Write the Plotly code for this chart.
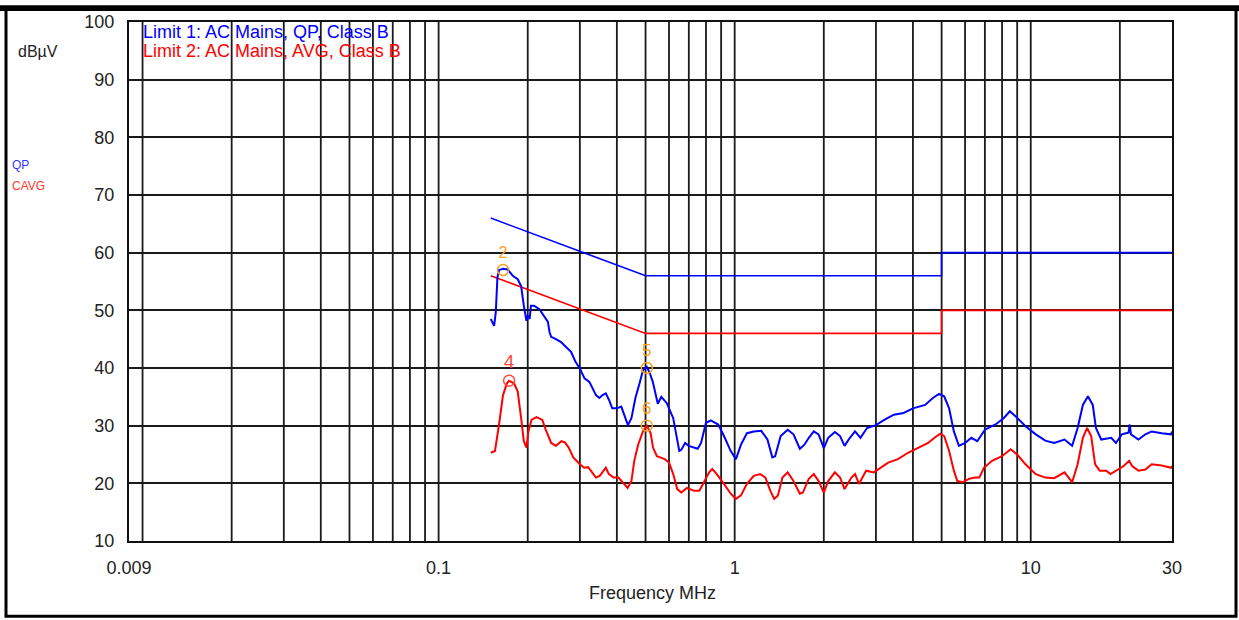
import math
import plotly.graph_objects as go

# ---------------- data ----------------
limit_freq = [0.15, 0.5, 5.0, 5.0, 30.0]
limit_qp = [66, 56, 56, 60, 60]
limit_avg = [56, 46, 46, 50, 50]

qp_freq = [0.150, 0.152, 0.154, 0.156, 0.158, 0.160, 0.165, 0.171, 0.178, 0.185, 0.190, 0.194,
           0.198, 0.200, 0.203, 0.205, 0.210, 0.219, 0.224, 0.234, 0.237, 0.240, 0.249, 0.259,
           0.270, 0.280, 0.290, 0.300, 0.311, 0.323, 0.331, 0.340, 0.349, 0.358, 0.367, 0.376,
           0.386, 0.400, 0.414, 0.425, 0.436, 0.448, 0.462, 0.477, 0.490, 0.505, 0.515, 0.529,
           0.543, 0.550, 0.565, 0.590, 0.620, 0.640, 0.650, 0.660, 0.680, 0.700, 0.750, 0.770,
           0.800, 0.830, 0.880, 0.920, 0.970, 1.01, 1.05, 1.10, 1.16, 1.23, 1.29, 1.34, 1.37,
           1.43, 1.51, 1.58, 1.66, 1.72, 1.78, 1.85, 1.92, 2.00, 2.07, 2.18, 2.27, 2.35, 2.45,
           2.55, 2.66, 2.80, 3.00, 3.20, 3.45, 3.72, 4.00, 4.40, 4.67, 4.90, 5.10, 5.30, 5.50,
           5.72, 6.00, 6.30, 6.60, 7.00, 7.60, 8.10, 8.50, 8.90, 9.60, 10.4, 11.2, 12.0, 13.0,
           13.8, 14.4, 15.0, 15.6, 16.2, 16.6, 17.3, 18.7, 19.4, 20.3, 21.4, 21.6, 21.8, 23.1,
           24.4, 25.6, 27.7, 29.8, 30.0]
qp_level = [48.5, 47.8, 47.3, 49.7, 55.7, 57.0, 57.2, 57.1, 56.0, 55.4, 54.2, 50.8,
            48.2, 49.1, 48.5, 50.8, 50.8, 50.2, 49.4, 48.0, 46.2, 45.4, 45.0, 44.5,
            43.6, 42.8, 41.1, 39.9, 38.2, 37.6, 36.5, 35.3, 34.8, 35.3, 35.6, 34.5,
            33.0, 33.0, 33.3, 31.5, 30.1, 31.3, 34.8, 37.3, 39.6, 40.2, 39.3, 37.6,
            34.8, 33.8, 35.0, 33.9, 31.3, 27.9, 25.6, 25.8, 27.0, 26.5, 26.0, 27.0,
            30.5, 30.9, 30.2, 28.2, 25.6, 24.2, 26.7, 28.7, 29.0, 29.1, 27.6, 24.5, 24.7,
            28.2, 29.3, 28.5, 26.0, 26.7, 27.9, 29.0, 28.5, 26.1, 27.9, 28.9, 28.2, 26.5, 27.9,
            29.0, 27.9, 29.6, 30.1, 31.0, 31.9, 32.2, 33.0, 33.6, 34.8, 35.5, 35.1, 33.0, 29.0,
            26.5, 27.0, 27.9, 27.3, 29.3, 30.2, 31.3, 32.5, 31.6, 29.9, 28.5, 27.4, 27.0, 27.6,
            26.5, 29.6, 33.6, 35.1, 33.6, 29.6, 27.6, 27.9, 27.0, 28.5, 28.8, 30.2, 28.5, 27.6,
            28.5, 29.0, 28.7, 28.5, 29.0]

avg_freq = [0.150, 0.155, 0.160, 0.165, 0.170, 0.173, 0.180, 0.185, 0.190, 0.194, 0.198, 0.201,
            0.206, 0.214, 0.224, 0.230, 0.240, 0.249, 0.260, 0.267, 0.275, 0.285, 0.300, 0.310,
            0.320, 0.330, 0.340, 0.350, 0.367, 0.376, 0.390, 0.405, 0.415, 0.435, 0.448, 0.458,
            0.472, 0.490, 0.505, 0.520, 0.530, 0.546, 0.560, 0.580, 0.600, 0.620, 0.640, 0.660,
            0.690, 0.730, 0.760, 0.790, 0.820, 0.840, 0.870, 0.920, 0.970, 1.01, 1.05, 1.10,
            1.16, 1.22, 1.27, 1.32, 1.36, 1.40, 1.45, 1.51, 1.58, 1.66, 1.70, 1.78, 1.85, 1.92,
            2.00, 2.07, 2.18, 2.27, 2.35, 2.48, 2.55, 2.63, 2.78, 2.95, 3.10, 3.30, 3.56, 3.85,
            4.15, 4.50, 4.73, 4.95, 5.10, 5.30, 5.50, 5.65, 5.90, 6.20, 6.50, 6.70, 6.95, 7.40,
            8.00, 8.55, 9.00, 9.60, 10.4, 11.2, 12.0, 13.0, 13.8, 14.4, 15.0, 15.5, 16.0, 16.5,
            17.1, 18.0, 18.6, 19.4, 20.6, 21.5, 22.0, 23.1, 24.4, 25.6, 27.7, 29.8, 30.0]
avg_level = [25.3, 25.6, 30.2, 35.3, 37.3, 37.8, 37.3, 35.9, 31.3, 27.3, 26.2, 29.0,
             31.0, 31.5, 31.0, 29.3, 27.0, 26.5, 27.3, 27.1, 26.2, 24.5, 23.3, 22.7,
             22.8, 21.9, 21.0, 21.3, 22.7, 21.6, 21.0, 21.0, 20.4, 19.2, 20.4, 23.9,
             26.7, 29.0, 30.0, 28.7, 26.2, 24.7, 24.5, 24.2, 23.6, 21.6, 19.0, 18.4,
             19.2, 18.7, 18.7, 20.4, 21.9, 22.5, 21.6, 19.9, 18.2, 17.3, 17.9, 19.9,
             21.3, 21.6, 21.0, 18.7, 17.3, 17.9, 21.0, 21.9, 20.4, 18.2, 18.4, 20.8, 21.6, 20.4,
             18.4, 20.4, 21.9, 21.0, 19.0, 21.0, 21.6, 19.9, 22.2, 21.9, 22.7, 23.6, 24.2, 25.3,
             26.1, 27.0, 27.9, 28.6, 28.2, 25.6, 22.2, 20.4, 20.2, 20.8, 21.0, 21.0, 22.7, 23.9,
             24.7, 25.9, 25.0, 23.3, 21.6, 21.0, 20.9, 21.9, 20.2, 23.3, 27.9, 29.6, 28.2, 23.3,
             22.2, 22.2, 21.6, 22.2, 23.0, 23.9, 23.0, 22.2, 22.4, 23.3, 23.1, 22.7, 23.0]

marker_labels = ["2", "4", "5", "6"]
marker_freq = [0.165, 0.173, 0.505, 0.505]
marker_level = [57.0, 37.8, 40.0, 30.0]

x_tick_vals = [0.009, 0.1, 1, 10, 30]
x_tick_text = ["0.009", "0.1", "1", "10", "30"]
y_tick_vals = [10, 20, 30, 40, 50, 60, 70, 80, 90, 100]
x_min, x_max = 0.009, 30
y_min, y_max = 10, 100

# ---------------- layout helpers ----------------
W, H = 1239, 620
L, R, T, B = 129, 1172, 17, 541
FONT = "Liberation Sans, Arial, sans-serif"


def px(x):
    return (x - L) / (R - L)


def py(y):
    return (B - y) / (B - T)


# vertical log grid lines (1..9 per decade)
grid_f = []
for dec in [0.01, 0.1, 1, 10]:
    for m in range(1, 10):
        f = round(m * dec, 6)
        if x_min < f < x_max:
            grid_f.append(f)
gx, gy = [], []
for f in grid_f:
    gx += [f, f, None]
    gy += [y_min, y_max, None]

fig = go.Figure()
fig.add_trace(go.Scatter(x=gx, y=gy, mode="lines", line=dict(color="#1a1a1a", width=1.8),
                         hoverinfo="skip", showlegend=False))
fig.add_trace(go.Scatter(x=limit_freq, y=limit_qp, mode="lines",
                         line=dict(color="#0000ff", width=1.6), showlegend=False))
fig.add_trace(go.Scatter(x=limit_freq, y=limit_avg, mode="lines",
                         line=dict(color="#ff0000", width=1.6), showlegend=False))
fig.add_trace(go.Scatter(x=qp_freq, y=qp_level, mode="lines",
                         line=dict(color="#0000ff", width=2), showlegend=False))
fig.add_trace(go.Scatter(x=avg_freq, y=avg_level, mode="lines",
                         line=dict(color="#ff0000", width=2), showlegend=False))

mk_colors = ["#f5a31f", "#ff4a3a", "#f5a31f", "#f5a31f"]
mk_sizes = [16, 19, 17, 17]
fig.add_trace(go.Scatter(x=marker_freq, y=marker_level, mode="markers+text",
                         text=marker_labels, textposition="top center",
                         textfont=dict(family=FONT, size=mk_sizes, color=mk_colors),
                         marker=dict(symbol="circle-open", size=11, color=mk_colors,
                                     line=dict(width=1.5, color=mk_colors)),
                         showlegend=False))

fig.update_xaxes(type="log", range=[math.log10(x_min), math.log10(x_max)],
                 tickvals=x_tick_vals, ticktext=x_tick_text, showgrid=False,
                 zeroline=False, showline=True, mirror=True, linecolor="#111", linewidth=2,
                 tickfont=dict(family=FONT, size=18, color="#222"), ticklabelstandoff=9)
fig.update_yaxes(range=[y_min, y_max], tickvals=y_tick_vals, showgrid=True,
                 gridcolor="#1a1a1a", gridwidth=1.8, zeroline=False,
                 showline=True, mirror=True, linecolor="#111", linewidth=2,
                 tickfont=dict(family=FONT, size=18, color="#222"), ticklabelstandoff=9)

ann = [
    dict(text="Limit 1: AC Mains, QP, Class B", x=px(141), y=py(27), xanchor="left",
         yanchor="middle", font=dict(family=FONT, size=18, color="#0000ff")),
    dict(text="Limit 2: AC Mains, AVG, Class B", x=px(141), y=py(46), xanchor="left",
         yanchor="middle", font=dict(family=FONT, size=18, color="#ff0000")),
    dict(text="dBµV", x=px(16), y=py(47), xanchor="left", yanchor="middle",
         font=dict(family=FONT, size=16, color="#222")),
    dict(text="QP", x=px(10), y=py(161), xanchor="left", yanchor="middle",
         font=dict(family=FONT, size=12, color="#3333ff")),
    dict(text="CAVG", x=px(10), y=py(183), xanchor="left", yanchor="middle",
         font=dict(family=FONT, size=12, color="#ff3a2a")),
    dict(text="Frequency MHz", x=px(652), y=py(593), xanchor="center", yanchor="middle",
         font=dict(family=FONT, size=18, color="#222")),
]
for a in ann:
    a.update(xref="paper", yref="paper", showarrow=False)

shapes = [
    dict(type="rect", xref="paper", yref="paper", x0=px(6), x1=px(1236), y0=py(617), y1=py(3),
         line=dict(color="#000", width=3), fillcolor="rgba(0,0,0,0)", layer="above"),
    dict(type="rect", xref="paper", yref="paper", x0=px(0), x1=px(1239), y0=py(6), y1=py(0),
         line=dict(width=0), fillcolor="#000", layer="above"),
]

fig.update_layout(width=W, height=H, autosize=False,
                  margin=dict(l=L, r=W - R, t=T, b=H - B, pad=0),
                  paper_bgcolor="white", plot_bgcolor="white",
                  annotations=ann, shapes=shapes, showlegend=False,
                  font=dict(family=FONT))

fig.write_html("out.html", config={"displayModeBar": False},
               post_script="document.body.style.margin='0';document.body.style.padding='0';"
                           "document.body.style.overflow='hidden';")
